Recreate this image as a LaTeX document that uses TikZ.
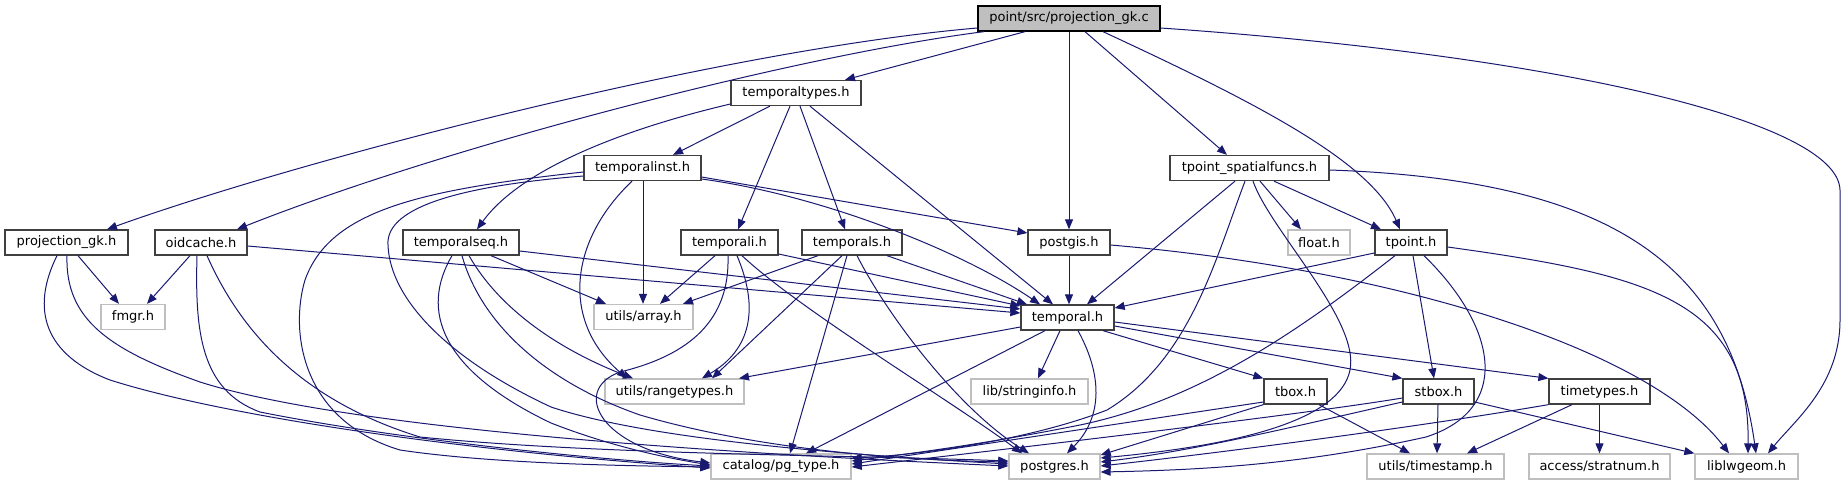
\documentclass[tikz,border=0pt]{standalone}
\usepackage{fontspec}
\setmainfont{DejaVu Sans}
\usetikzlibrary{arrows.meta}
\definecolor{edgecol}{HTML}{191970}
\definecolor{boxdark}{HTML}{404040}
\definecolor{boxgray}{HTML}{BFBFBF}
\tikzset{
  nbox/.style={draw=boxdark, line width=1.3pt, fill=white, inner sep=0pt, minimum height=25pt,
    font=\fontsize{13}{15}\selectfont, text=black},
  gbox/.style={nbox, draw=boxgray},
  topbox/.style={nbox, draw=black, fill=boxgray},
  e/.style={draw=edgecol, line width=1pt, -{Triangle[length=10pt,width=8pt]}}
}
\begin{document}
\begin{tikzpicture}[x=1pt,y=-1pt]
\useasboundingbox (0,0) rectangle (1845,485);
% nodes
\node[topbox, minimum width=182pt] (T) at (1069,18.5) {point/src/projection\_gk.c};
\node[nbox, minimum width=130pt] (tt) at (796,93) {temporaltypes.h};
\node[nbox, minimum width=123pt] (pgk) at (66.5,242.5) {projection\_gk.h};
\node[nbox, minimum width=92pt] (oc) at (201,242.5) {oidcache.h};
\node[nbox, minimum width=117pt] (tinst) at (642.5,168) {temporalinst.h};
\node[nbox, minimum width=116pt] (tseq) at (461,242.5) {temporalseq.h};
\node[nbox, minimum width=97pt] (ti) at (729.5,242.5) {temporali.h};
\node[nbox, minimum width=100pt] (ts) at (852,242.5) {temporals.h};
\node[nbox, minimum width=82pt] (pgis) at (1069,242.5) {postgis.h};
\node[nbox, minimum width=159pt] (tsf) at (1249.5,168) {tpoint\_spatialfuncs.h};
\node[gbox, minimum width=62pt] (flt) at (1319,242.5) {float.h};
\node[nbox, minimum width=72pt] (tpt) at (1411,242.5) {tpoint.h};
\node[gbox, minimum width=64pt] (fmgr) at (133,317) {fmgr.h};
\node[gbox, minimum width=99pt] (arr) at (643.5,317) {utils/array.h};
\node[nbox, minimum width=93pt] (tmp) at (1067.5,317.5) {temporal.h};
\node[gbox, minimum width=139pt] (rng) at (674.5,391.5) {utils/rangetypes.h};
\node[gbox, minimum width=117pt] (sinfo) at (1029.5,391.5) {lib/stringinfo.h};
\node[nbox, minimum width=63pt] (tbox) at (1295.5,391.5) {tbox.h};
\node[nbox, minimum width=71pt] (stbox) at (1438.5,391.5) {stbox.h};
\node[nbox, minimum width=101pt] (ttypes) at (1599.5,391.5) {timetypes.h};
\node[gbox, minimum width=140pt] (pgt) at (781,466.5) {catalog/pg\_type.h};
\node[gbox, minimum width=91pt] (pgres) at (1054.5,466.5) {postgres.h};
\node[gbox, minimum width=137pt] (tstamp) at (1435.5,466.5) {utils/timestamp.h};
\node[gbox, minimum width=141pt] (strat) at (1599.5,466.5) {access/stratnum.h};
\node[gbox, minimum width=103pt] (lwg) at (1746.5,466.5) {liblwgeom.h};
% edges from top node
\draw[e] (T.west |- 0,28) .. controls (720,50) and (300,160) .. (pgk.north -| 107,0);
\draw[e] (T.south -| 984,0) .. controls (800,55) and (450,145) .. (oc.north -| 237,0);
\draw[e] (T.south -| 1025,0) -- (tt.north -| 845,0);
\draw[e] (T) -- (pgis);
\draw[e] (T.south -| 1085,0) -- (tsf.north -| 1227,0);
\draw[e] (T.south -| 1103,0) .. controls (1250,100) and (1370,160) .. (tpt.north -| 1400,0);
\draw[e] (T.east |- 0,28) .. controls (1550,55) and (1838,120) .. (1840,190) -- (1840,320) .. controls (1840,385) and (1795,420) .. (lwg.north -| 1768,0);
% temporaltypes
\draw[e] (tt.south -| 770,0) -- (tinst.north -| 673,0);
\draw[e] (tt.west |- 0,104) .. controls (620,130) and (520,170) .. (tseq.north -| 477,0);
\draw[e] (tt.south -| 790,0) -- (ti.north -| 738,0);
\draw[e] (tt.south -| 800,0) -- (ts.north -| 845,0);
\draw[e] (tt.south -| 810,0) -- (tmp.north -| 1053,0);
% temporalinst
\draw[e] (tinst.south -| 643,0) -- (arr.north -| 643,0);
\draw[e] (tinst.east |- 0,177) -- (pgis.west |- 0,233);
\draw[e] (tinst.east |- 0,179) .. controls (820,195) and (960,250) .. (tmp.north -| 1040,0);
\draw[e] (tinst.south -| 632,0) .. controls (570,240) and (560,320) .. (rng.north -| 627,0);
\draw[e] (tinst.west |- 0,172) .. controls (420,190) and (330,210) .. (305,280) .. controls (290,330) and (300,420) .. (400,450) .. controls (500,465) and (650,466) .. (pgt.west |- 0,467);
\draw[e] (tinst.west |- 0,176) .. controls (470,185) and (385,205) .. (388,245) .. controls (390,300) and (450,360) .. (551,407) .. controls (650,440) and (850,455) .. (pgres.west |- 0,464);
% temporalseq
\draw[e] (tseq.south -| 491,0) -- (arr.north -| 606,0);
\draw[e] (tseq.east |- 0,251) -- (tmp.west |- 0,309);
\draw[e] (tseq.south -| 469,0) .. controls (500,310) and (560,350) .. (rng.north -| 633,0);
\draw[e] (tseq.south -| 452,0) .. controls (420,310) and (440,370) .. (551,423) .. controls (620,450) and (680,460) .. (pgt.west |- 0,465);
\draw[e] (tseq.south -| 462,0) .. controls (480,320) and (540,380) .. (640,415) .. controls (760,450) and (900,460) .. (pgres.west |- 0,462);
% oidcache
\draw[e] (oc.south -| 190,0) -- (fmgr.north -| 147,0);
\draw[e] (oc.south -| 197,0) .. controls (195,330) and (200,390) .. (260,412) .. controls (400,440) and (600,460) .. (pgt.west |- 0,466);
\draw[e] (oc.south -| 207,0) .. controls (240,330) and (300,400) .. (420,437) .. controls (600,455) and (850,455) .. (pgres.west |- 0,461);
\draw[e] (oc.east |- 0,246) -- (tmp.west |- 0,313);
% projection_gk.h
\draw[e] (pgk.south -| 78,0) -- (fmgr.north -| 119,0);
\draw[e] (pgk.south -| 57,0) .. controls (30,310) and (45,355) .. (110,380) .. controls (220,415) and (450,450) .. (pgt.west |- 0,468);
\draw[e] (pgk.south -| 67,0) .. controls (65,320) and (110,350) .. (200,382) .. controls (320,420) and (600,448) .. (pgres.west |- 0,466);
% temporali
\draw[e] (ti.south -| 715,0) -- (arr.north -| 660,0);
\draw[e] (ti.east |- 0,254) -- (tmp.west |- 0,306);
\draw[e] (ti.south -| 728,0) .. controls (730,320) and (690,355) .. (620,372) .. controls (570,390) and (600,450) .. (pgt.west |- 0,463);
\draw[e] (ti.south -| 737,0) .. controls (760,310) and (750,350) .. (rng.north -| 702,0);
\draw[e] (ti.south -| 742,0) .. controls (800,310) and (950,400) .. (pgres.north -| 1022,0);
% temporals
\draw[e] (ts.south -| 818,0) -- (arr.north -| 683,0);
\draw[e] (ts.south -| 842,0) -- (rng.north -| 712,0);
\draw[e] (ts.south -| 847,0) -- (pgt.north -| 790,0);
\draw[e] (ts.south -| 857,0) .. controls (890,320) and (960,410) .. (pgres.north -| 1029,0);
\draw[e] (ts.south -| 887,0) -- (tmp.north -| 1027,0);
% postgis
\draw[e] (pgis.south -| 1069,0) -- (tmp.north -| 1069,0);
\draw[e] (pgis.east |- 0,245) .. controls (1400,270) and (1650,350) .. (lwg.north -| 1729,0);
% tpoint_spatialfuncs
\draw[e] (tsf.south -| 1235,0) -- (tmp.north -| 1087,0);
\draw[e] (tsf.south -| 1245,0) .. controls (1215,260) and (1190,360) .. (1107,410) .. controls (1030,440) and (920,455) .. (pgt.east |- 0,458);
\draw[e] (tsf.south -| 1253,0) .. controls (1270,230) and (1360,320) .. (1350,370) .. controls (1340,420) and (1240,445) .. (pgres.east |- 0,458);
\draw[e] (tsf.south -| 1260,0) -- (flt.north -| 1301,0);
\draw[e] (tsf.south -| 1274,0) -- (tpt.north -| 1381,0);
\draw[e] (tsf.east |- 0,170) .. controls (1620,180) and (1730,270) .. (lwg.north -| 1756,0);
% tpoint
\draw[e] (tpt.west |- 0,253) -- (tmp.east |- 0,308);
\draw[e] (tpt.south -| 1395,0) .. controls (1300,330) and (1200,400) .. (1080,425) .. controls (980,445) and (900,455) .. (pgt.east |- 0,461);
\draw[e] (tpt.south -| 1413,0) -- (stbox.north -| 1434,0);
\draw[e] (tpt.south -| 1424,0) .. controls (1500,330) and (1510,410) .. (1426,437) .. controls (1300,465) and (1200,470) .. (pgres.east |- 0,472);
\draw[e] (tpt.east |- 0,247) .. controls (1650,275) and (1750,300) .. (lwg.north -| 1748,0);
% temporal
\draw[e] (tmp.west |- 0,327) -- (rng.north -| 739,0);
\draw[e] (tmp.south -| 1045,0) -- (pgt.north -| 806,0);
\draw[e] (tmp.south -| 1060,0) -- (sinfo.north -| 1038,0);
\draw[e] (tmp.south -| 1078,0) .. controls (1105,380) and (1100,420) .. (pgres.north -| 1067,0);
\draw[e] (tmp.south -| 1103,0) -- (tbox.north west);
\draw[e] (tmp.east |- 0,326) -- (stbox.north west);
\draw[e] (tmp.east |- 0,322) -- (ttypes.north west);
% tbox
\draw[e] (tbox.west |- 0,402) -- (pgt.east |- 0,464);
\draw[e] (tbox.south west) -- (pgres.east |- 0,455);
\draw[e] (tbox.south -| 1319,0) -- (tstamp.north -| 1410,0);
% stbox
\draw[e] (stbox.west |- 0,398) .. controls (1300,415) and (1000,450) .. (pgt.east |- 0,467);
\draw[e] (stbox.west |- 0,402) .. controls (1300,425) and (1200,450) .. (pgres.east |- 0,462);
\draw[e] (stbox.south -| 1438,0) -- (tstamp.north -| 1437,0);
\draw[e] (stbox.east |- 0,402) -- (lwg.north west);
% timetypes
\draw[e] (ttypes.south west) .. controls (1400,430) and (1200,455) .. (pgres.east |- 0,466);
\draw[e] (ttypes.south -| 1572,0) -- (tstamp.north -| 1467,0);
\draw[e] (ttypes) -- (strat);
\end{tikzpicture}
\end{document}
